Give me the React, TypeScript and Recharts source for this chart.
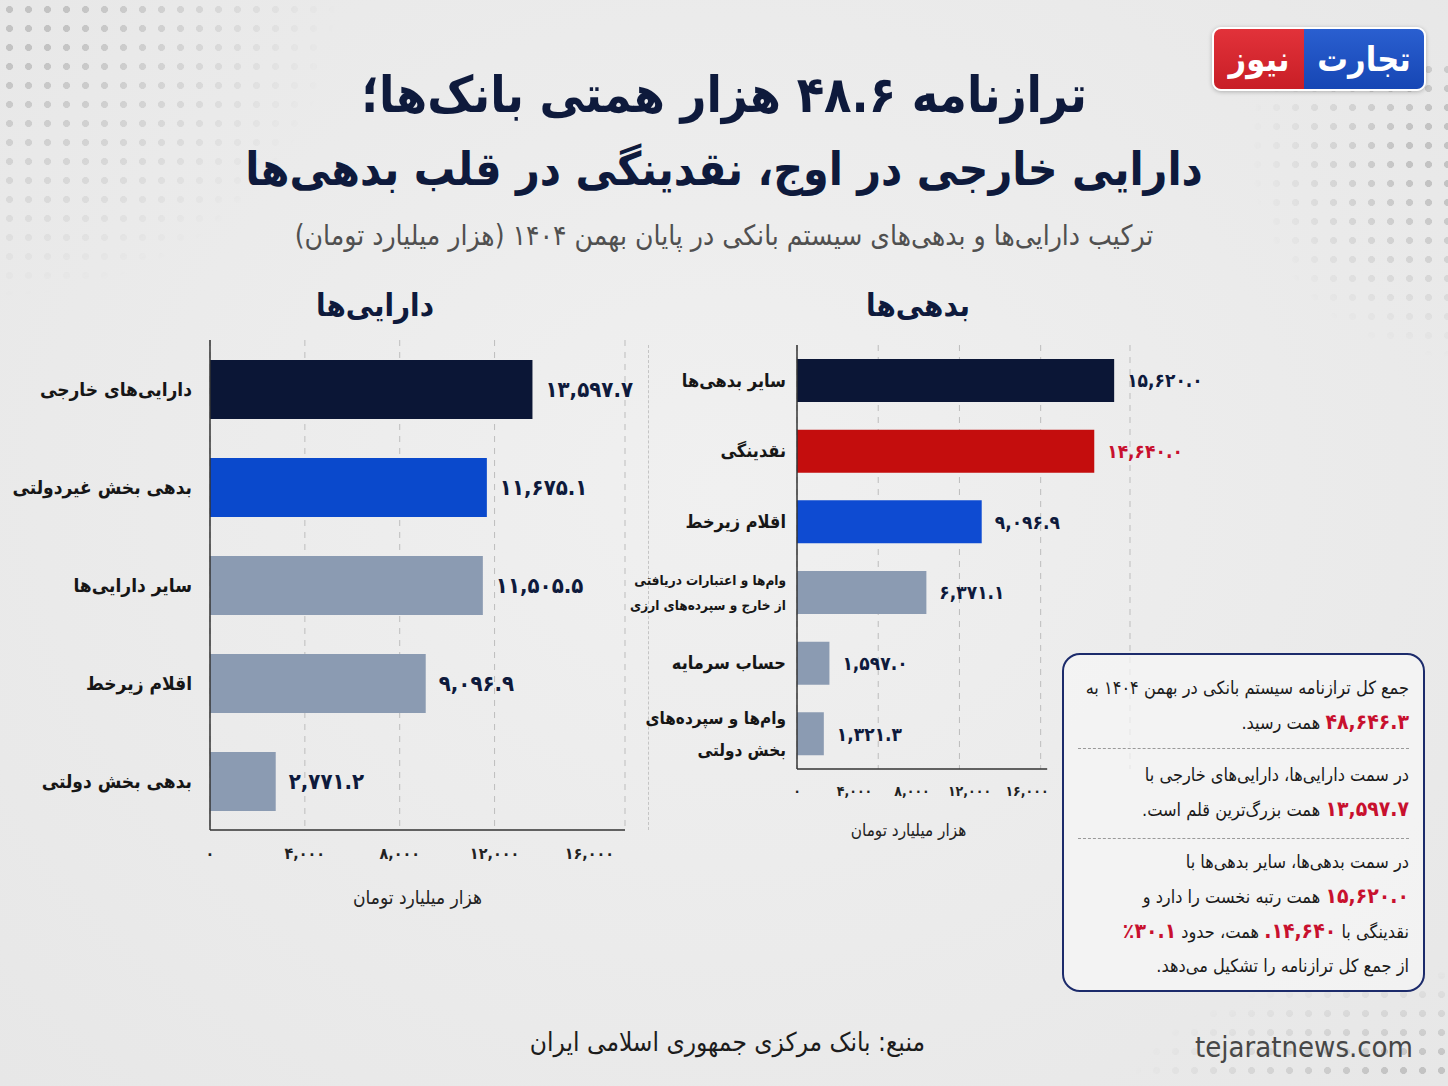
import {
	Bar,
	BarChart,
	CartesianGrid,
	Cell,
	LabelList,
	XAxis,
	YAxis,
} from 'recharts';

const ZW = '\u200c';
const FA = '"DejaVu Sans Condensed", "DejaVu Sans", sans-serif';
const NAVY = '#0e1a3c';
const RED = '#c8102e';

const assetNames = [
	`دارایی${ZW}های خارجی`,
	'بدهی بخش غیردولتی',
	`سایر دارایی${ZW}ها`,
	'اقلام زیرخط',
	'بدهی بخش دولتی',
];
const assetValues = [13597.7, 11675.1, 11505.5, 9096.9, 2771.2];
const assetColors = ['#0b1636', '#0a49cc', '#8b9bb2', '#8b9bb2', '#8b9bb2'];
const assetLabelColors = [NAVY, NAVY, NAVY, NAVY, NAVY];

const liabilityNames = [
	`سایر بدهی${ZW}ها`,
	'نقدینگی',
	'اقلام زیرخط',
	`وام${ZW}ها و اعتبارات دریافتی\nاز خارج و سپرده${ZW}های ارزی`,
	'حساب سرمایه',
	`وام${ZW}ها و سپرده${ZW}های\nبخش دولتی`,
];
const liabilityValues = [15620.0, 14640.0, 9096.9, 6371.1, 1597.0, 1321.3];
const liabilityColors = ['#0b1636', '#c40d0d', '#0e4bd2', '#8b9bb2', '#8b9bb2', '#8b9bb2'];
const liabilityLabelColors = [NAVY, RED, NAVY, NAVY, NAVY, NAVY];

const axisTicks = [0, 4000, 8000, 12000, 16000];
const gridTicks = [4000, 8000, 12000];
const axisTitle = 'هزار میلیارد تومان';

// right panel: the printed scale is tighter than the bars, as in the source graphic
const RIGHT_PLOT_W = 333;
const RIGHT_BAR_MAX = 16400;
const RIGHT_SCALE_MAX = 23160;
const RIGHT_AXIS_END = 17400;

const assetRows = assetNames.map((name, i) => ({ name, value: assetValues[i] }));
const liabilityRows = liabilityNames.map((name, i) => ({ name, value: liabilityValues[i] }));

const faDigits = '۰۱۲۳۴۵۶۷۸۹';
const toFa = (s: string) => s.replace(/\d/g, (d) => faDigits[Number(d)]);
const fmt1 = (v: number) =>
	toFa(v.toLocaleString('en-US', { minimumFractionDigits: 1, maximumFractionDigits: 1 }));
const fmt0 = (v: number) => toFa(v.toLocaleString('en-US'));

function CategoryTick(props: any) {
	const { x, y, payload, gap, size } = props;
	const lines = String(payload.value).split('\n');
	const longest = Math.max(...lines.map((l) => l.length));
	const fs = lines.length > 1 ? (longest > 20 ? 13.5 : 17) : size;
	const lh = fs * 1.85;
	const first = -((lines.length - 1) * lh) / 2 + fs * 0.36;
	const tx = Number(x) - gap;
	return (
		<text x={tx} y={y} textAnchor="end" fontFamily={FA} fontWeight={700} fontSize={fs} fill="#161616">
			{lines.map((l, i) => (
				<tspan key={i} x={tx} dy={i === 0 ? first : lh}>
					{l}
				</tspan>
			))}
		</text>
	);
}

const valueLabel = (colors: string[], values: number[], fs: number) => (props: any) => {
	const vb = props.viewBox ?? props;
	const { x, y, width, height } = vb;
	const i = typeof props.index === 'number' ? props.index : values.indexOf(Number(props.value));
	return (
		<text
			x={Number(x) + Number(width) + 13}
			y={Number(y) + Number(height) / 2}
			dy="0.36em"
			fontFamily={FA}
			fontWeight={700}
			fontSize={fs}
			fill={colors[i] ?? NAVY}
		>
			{fmt1(Number(props.value))}
		</text>
	);
};

const tickStyle = { fontSize: 16, fontWeight: 700, fill: '#222', fontFamily: FA };

function AssetsChart() {
	return (
		<BarChart
			layout="vertical"
			width={650}
			height={580}
			data={assetRows}
			margin={{ top: 10, right: 25, bottom: 0, left: 0 }}
		>
			<CartesianGrid xAxisId="grid" horizontal={false} strokeDasharray="6 6" stroke="#bdbdbd" />
			<XAxis
				xAxisId="grid"
				type="number"
				domain={[0, 17500]}
				ticks={gridTicks}
				allowDataOverflow
				hide
				height={0}
			/>
			<XAxis
				type="number"
				domain={[0, 17500]}
				ticks={axisTicks}
				tickFormatter={fmt0}
				tick={tickStyle}
				tickLine={false}
				tickMargin={12}
				axisLine={{ stroke: '#333', strokeWidth: 1.5 }}
				height={80}
				label={{ value: axisTitle, position: 'insideBottom', offset: 6, fill: '#222', fontSize: 19, fontFamily: FA }}
			/>
			<YAxis
				type="category"
				dataKey="name"
				width={210}
				tickLine={false}
				axisLine={{ stroke: '#333', strokeWidth: 1.5 }}
				tick={(p: any) => <CategoryTick {...p} gap={10} size={19} />}
			/>
			<Bar dataKey="value" barSize={59} isAnimationActive={false}>
				{assetRows.map((r, i) => (
					<Cell key={r.name} fill={assetColors[i]} />
				))}
				<LabelList dataKey="value" content={valueLabel(assetLabelColors, assetValues, 22)} />
			</Bar>
		</BarChart>
	);
}

function LiabilitiesChart() {
	const axisDash = `${(RIGHT_PLOT_W * RIGHT_AXIS_END) / RIGHT_SCALE_MAX} 2000`;
	return (
		<BarChart
			layout="vertical"
			width={177 + RIGHT_PLOT_W + 80}
			height={509}
			data={liabilityRows}
			margin={{ top: 10, right: 80, bottom: 0, left: 0 }}
		>
			<CartesianGrid xAxisId="bars" horizontal={false} strokeDasharray="6 6" stroke="#bdbdbd" />
			<XAxis xAxisId="bars" type="number" domain={[0, RIGHT_BAR_MAX]} ticks={gridTicks} hide height={0} />
			<XAxis
				xAxisId="scale"
				type="number"
				domain={[0, RIGHT_SCALE_MAX]}
				allowDataOverflow
				ticks={axisTicks}
				tickFormatter={fmt0}
				tick={{ ...tickStyle, fontSize: 14 }}
				tickLine={false}
				tickMargin={11}
				axisLine={{ stroke: '#333', strokeWidth: 1.5, strokeDasharray: axisDash }}
				height={75}
				label={{ value: axisTitle, position: 'insideBottom', offset: 8, dx: -55, fill: '#222', fontSize: 17, fontFamily: FA }}
			/>
			<YAxis
				type="category"
				dataKey="name"
				width={177}
				tickLine={false}
				axisLine={{ stroke: '#333', strokeWidth: 1.5 }}
				tick={(p: any) => <CategoryTick {...p} gap={3} size={18} />}
			/>
			<Bar xAxisId="bars" dataKey="value" barSize={43} isAnimationActive={false}>
				{liabilityRows.map((r, i) => (
					<Cell key={r.name} fill={liabilityColors[i]} />
				))}
				<LabelList dataKey="value" content={valueLabel(liabilityLabelColors, liabilityValues, 19)} />
			</Bar>
		</BarChart>
	);
}

function Dots({ style, at }: { style: React.CSSProperties; at: string }) {
	const mask = `radial-gradient(ellipse at ${at}, black 15%, transparent 70%)`;
	return (
		<div
			style={{
				position: 'absolute',
				backgroundImage: 'radial-gradient(circle, #c3c3c3 3.2px, transparent 3.8px)',
				backgroundSize: '19px 19px',
				WebkitMaskImage: mask,
				maskImage: mask,
				...style,
			}}
		/>
	);
}

const red = (s: string) => <span style={{ color: RED, fontWeight: 700, fontSize: 21 }}>{s}</span>;
const sep = { borderTop: '1.5px dashed #9a9a9a', margin: '8px 0 9px' };

export default function App() {
	return (
		<div
			style={{
				position: 'absolute',
				left: 0,
				top: 0,
				width: 1448,
				height: 1086,
				overflow: 'hidden',
				background: 'radial-gradient(ellipse at 50% 45%, #f0f0f0 0%, #e7e7e7 100%)',
				fontFamily: FA,
			}}
		>
			<Dots style={{ left: 0, top: 0, width: 340, height: 300 }} at="0 0" />
			<Dots style={{ right: 0, top: 60, width: 200, height: 300 }} at="100% 30%" />
			<Dots style={{ right: 0, bottom: 0, width: 320, height: 120 }} at="100% 100%" />

			<div
				style={{
					position: 'absolute',
					left: 1212,
					top: 27,
					width: 210,
					height: 60,
					borderRadius: 9,
					overflow: 'hidden',
					display: 'flex',
					border: '2px solid #fff',
					boxShadow: '0 1px 4px rgba(0,0,0,0.25)',
					color: '#fff',
					fontWeight: 700,
					fontSize: 34,
					lineHeight: '60px',
					textAlign: 'center',
				}}
			>
				<div style={{ width: 90, background: 'linear-gradient(#e2323a, #c81e26)' }}>نیوز</div>
				<div style={{ width: 120, background: 'linear-gradient(#2a5fd0, #1646b4)' }}>تجارت</div>
			</div>

			<div
				dir="rtl"
				style={{
					position: 'absolute',
					left: 0,
					top: 58,
					width: 1448,
					textAlign: 'center',
					fontWeight: 700,
					fontSize: 46,
					lineHeight: '74px',
					color: NAVY,
				}}
			>
				<div style={{ fontSize: 50 }}>{`ترازنامه ۴۸.۶ هزار همتی بانک${ZW}ها؛`}</div>
				<div>{`دارایی خارجی در اوج، نقدینگی در قلب بدهی${ZW}ها`}</div>
			</div>
			<div
				dir="rtl"
				style={{
					position: 'absolute',
					left: 0,
					top: 216,
					width: 1448,
					textAlign: 'center',
					fontSize: 28,
					lineHeight: '40px',
					color: '#505050',
				}}
			>
				{`ترکیب دارایی${ZW}ها و بدهی${ZW}های سیستم بانکی در پایان بهمن ۱۴۰۴ (هزار میلیارد تومان)`}
			</div>

			<div style={{ position: 'absolute', left: 225, top: 284, width: 300, textAlign: 'center', fontSize: 31, fontWeight: 700, color: NAVY, lineHeight: '42px' }}>
				{`دارایی${ZW}ها`}
			</div>
			<div style={{ position: 'absolute', left: 768, top: 284, width: 300, textAlign: 'center', fontSize: 31, fontWeight: 700, color: NAVY, lineHeight: '42px' }}>
				{`بدهی${ZW}ها`}
			</div>

			<div style={{ position: 'absolute', left: 648, top: 345, height: 485, borderLeft: '1.5px dashed #c4c4c4' }} />

			<div style={{ position: 'absolute', left: 0, top: 330 }}>
				<AssetsChart />
			</div>
			<div style={{ position: 'absolute', left: 620, top: 335 }}>
				<LiabilitiesChart />
			</div>

			<div
				dir="rtl"
				style={{
					position: 'absolute',
					left: 1062,
					top: 653,
					width: 363,
					height: 339,
					boxSizing: 'border-box',
					border: '2.5px solid #1c2b6b',
					borderRadius: 18,
					background: 'rgba(246,246,246,0.7)',
					padding: '16px 14px 0 14px',
					fontSize: 18,
					lineHeight: '34px',
					color: '#1a1a1a',
					whiteSpace: 'nowrap',
				}}
			>
				<div>جمع کل ترازنامه سیستم بانکی در بهمن ۱۴۰۴ به</div>
				<div>{red('۴۸,۶۴۶.۳')} همت رسید.</div>
				<div style={sep} />
				<div>{`در سمت دارایی${ZW}ها، دارایی${ZW}های خارجی با`}</div>
				<div>
					{red('۱۳,۵۹۷.۷')} {`همت بزرگ${ZW}ترین قلم است.`}
				</div>
				<div style={{ ...sep, margin: '11px 0 6px' }} />
				<div>{`در سمت بدهی${ZW}ها، سایر بدهی${ZW}ها با`}</div>
				<div>{red('۱۵,۶۲۰.۰')} همت رتبه نخست را دارد و</div>
				<div>
					نقدینگی با {red('۱۴,۶۴۰.')} همت، حدود {red('۳۰.۱٪')}
				</div>
				<div>{`از جمع کل ترازنامه را تشکیل می${ZW}دهد.`}</div>
			</div>

			<div
				dir="rtl"
				style={{ position: 'absolute', right: 523, top: 1023, fontSize: 26, lineHeight: '38px', color: '#1c1c1c', whiteSpace: 'nowrap' }}
			>
				منبع: بانک مرکزی جمهوری اسلامی ایران
			</div>
			<div
				style={{
					position: 'absolute',
					left: 1195,
					top: 1029,
					fontSize: 29,
					lineHeight: '36px',
					color: '#474747',
					fontFamily: '"Liberation Sans Narrow", "DejaVu Sans Condensed", sans-serif',
				}}
			>
				tejaratnews.com
			</div>
		</div>
	);
}
